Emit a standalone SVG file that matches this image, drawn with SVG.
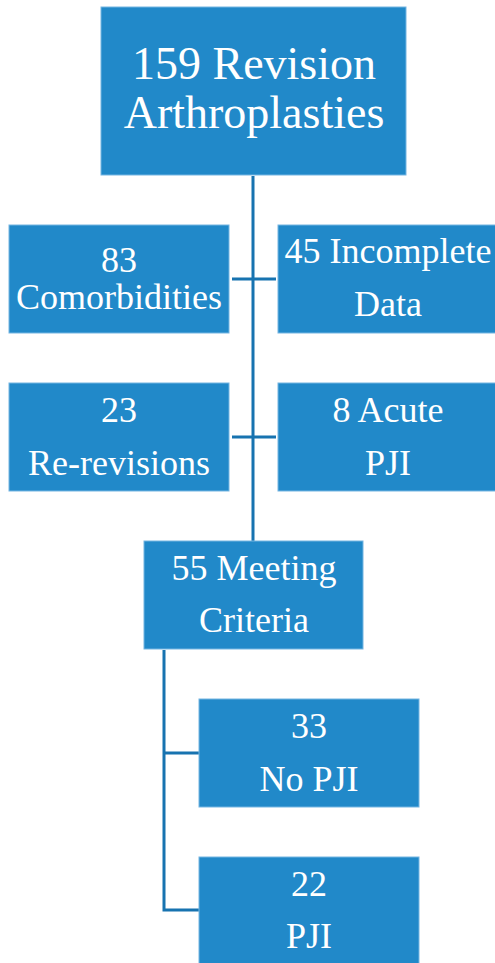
<svg xmlns="http://www.w3.org/2000/svg" width="495" height="963" viewBox="0 0 495 963">
<style>
.box{fill:#2189C9;stroke:#74B5E2;stroke-width:1}
.t{font-family:"Liberation Serif","Times New Roman",serif;fill:#FFFFFF;text-anchor:middle;font-size:36px}
.big{font-size:46px}
.c{stroke:#1773B0;stroke-width:3;fill:none}
</style>
<rect width="495" height="963" fill="#FFFFFF"/>
<g id="connectors">
<line class="c" x1="253" y1="176" x2="253" y2="541"/>
<line class="c" x1="232" y1="279" x2="276" y2="279"/>
<line class="c" x1="232" y1="437" x2="276" y2="437"/>
<polyline class="c" points="164,650 164,910 199,910"/>
<line class="c" x1="164" y1="753" x2="199" y2="753"/>
</g>
<g id="n-root">
<rect class="box" x="101" y="7" width="305" height="168"/>
<text class="t big" x="254" y="79">159 Revision</text>
<text class="t big" x="254" y="128">Arthroplasties</text>
</g>
<g id="n-comorbidities">
<rect class="box" x="9" y="225" width="220" height="108"/>
<text class="t" x="119" y="272">83</text>
<text class="t" x="119" y="309">Comorbidities</text>
</g>
<g id="n-incomplete">
<rect class="box" x="278" y="225" width="220" height="108"/>
<text class="t" x="388" y="263">45 Incomplete</text>
<text class="t" x="388" y="316">Data</text>
</g>
<g id="n-rerevisions">
<rect class="box" x="9" y="383" width="220" height="108"/>
<text class="t" x="119" y="422">23</text>
<text class="t" x="119" y="475">Re-revisions</text>
</g>
<g id="n-acute">
<rect class="box" x="278" y="383" width="220" height="108"/>
<text class="t" x="388" y="422">8 Acute</text>
<text class="t" x="388" y="475">PJI</text>
</g>
<g id="n-meeting">
<rect class="box" x="144" y="541" width="219" height="108"/>
<text class="t" x="254" y="580">55 Meeting</text>
<text class="t" x="254" y="632">Criteria</text>
</g>
<g id="n-nopji">
<rect class="box" x="199" y="699" width="220" height="108"/>
<text class="t" x="309" y="738">33</text>
<text class="t" x="309" y="791">No PJI</text>
</g>
<g id="n-pji">
<rect class="box" x="199" y="857" width="220" height="108"/>
<text class="t" x="309" y="896">22</text>
<text class="t" x="309" y="948">PJI</text>
</g>
</svg>
